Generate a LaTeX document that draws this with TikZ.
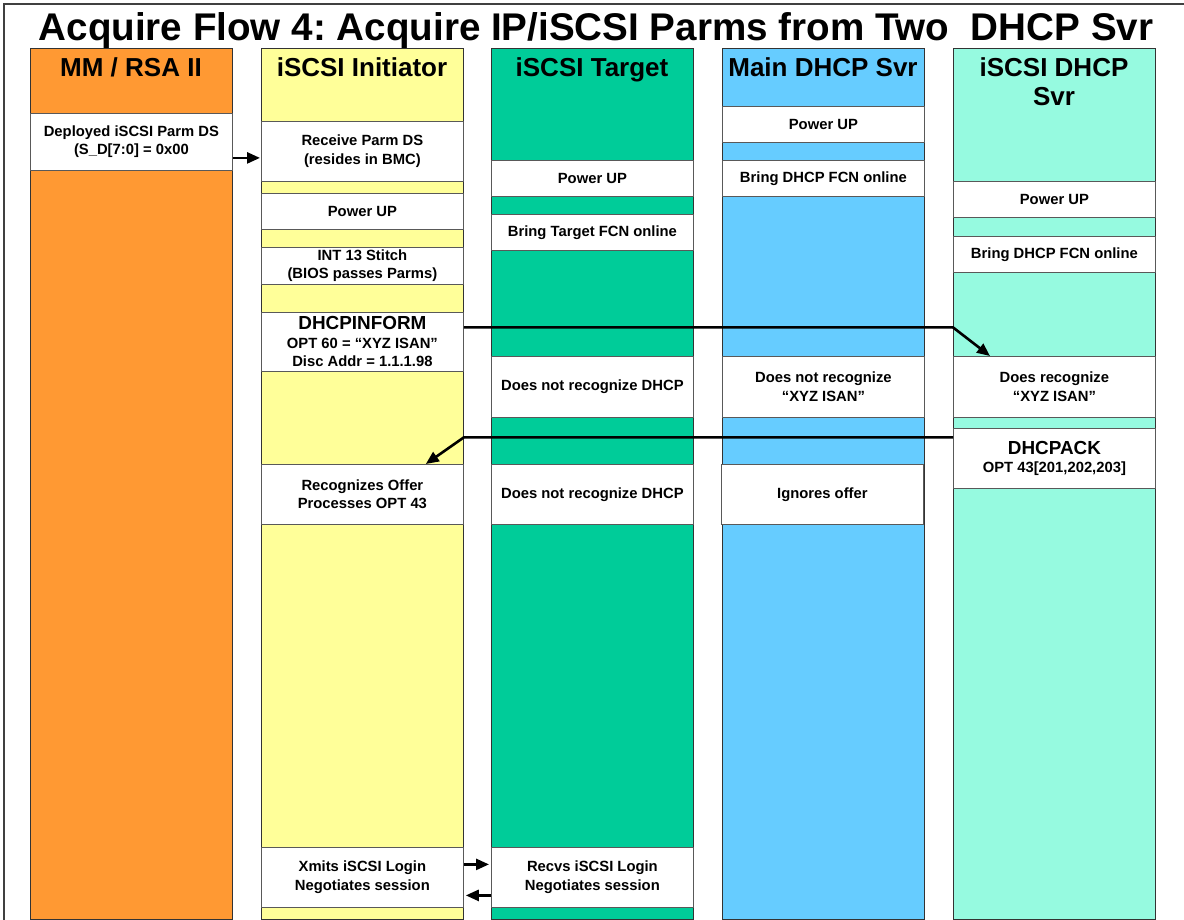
\documentclass[tikz,border=0pt]{standalone}
\usepackage{fontspec}
\setmainfont{Liberation Sans}
\usetikzlibrary{arrows.meta,calc}
\frenchspacing

\definecolor{mmorange}{HTML}{FF9933}
\definecolor{inityellow}{HTML}{FFFF99}
\definecolor{tgtgreen}{HTML}{00CC99}
\definecolor{dhcpblue}{HTML}{66CCFF}
\definecolor{isdhcpmint}{HTML}{96FAE0}

% larger first line for message boxes
\newcommand\msgtitle{\fontsize{18.9}{22}\selectfont}

\tikzset{
  lane/.style={draw=black!80, line width=0.8pt, anchor=north west,
    minimum width=202pt, minimum height=871pt, inner sep=0pt},
  lanehead/.style={font=\fontsize{26}{29}\selectfont\bfseries, align=center,
    anchor=north, inner sep=0pt},
  stepbox/.style={draw=black!65, line width=0.8pt, fill=white, anchor=north west,
    minimum width=202pt, inner sep=0pt, align=center,
    font=\fontsize{14.8}{18.5}\selectfont\bfseries},
  flow/.style={line width=2.6pt, -{Triangle[length=13pt,width=11pt]}},
}

\begin{document}
\begin{tikzpicture}[x=1pt,y=-1pt]
\useasboundingbox (0,0) rectangle (1184,920);

% outer frame
\draw[line width=1.2pt, draw=black!75] (4,920) -- (4,4) -- (1184,4);

% title
\node[font=\fontsize{38.6}{40}\selectfont\bfseries, anchor=base, inner sep=0pt] (title)
  at (596,41) {Acquire Flow 4: Acquire IP/iSCSI Parms from Two\ \ DHCP Svr};

% swim lanes
\node[lane, fill=mmorange]   (mm)   at (30,48)  {};
\node[lane, fill=inityellow] (init) at (261,48) {};
\node[lane, fill=tgtgreen]   (tgt)  at (491,48) {};
\node[lane, fill=dhcpblue]   (main) at (722,48) {};
\node[lane, fill=isdhcpmint] (isd)  at (953,48) {};

% lane headings
\node[lanehead] (hmm)   at (131,57)  {MM / RSA II};
\node[lanehead] (hinit) at (362,57)  {iSCSI Initiator};
\node[lanehead] (htgt)  at (592,57)  {iSCSI Target};
\node[lanehead] (hmain) at (823,57)  {Main DHCP Svr};
\node[lanehead] (hisd)  at (1054,57) {iSCSI DHCP\\Svr};

% MM / RSA II
\node[stepbox, minimum height=57pt] (deploy) at (30,113)
  {Deployed iSCSI Parm DS\\(S\_D[7:0] = 0x00};

% iSCSI Initiator
\node[stepbox, minimum height=60pt] (recv)   at (261,121) {Receive Parm DS\\(resides in BMC)};
\node[stepbox, minimum height=36pt] (ipwr)   at (261,193) {Power UP};
\node[stepbox, minimum height=37pt] (int13)  at (261,247) {INT 13 Stitch\\(BIOS passes Parms)};
\node[stepbox, minimum height=59pt] (inform) at (261,312)
  {{\msgtitle DHCPINFORM}\\OPT 60 = “XYZ ISAN”\\Disc Addr = 1.1.1.98};
\node[stepbox, minimum height=60pt] (offer)  at (261,464) {Recognizes Offer\\Processes OPT 43};
\node[stepbox, minimum height=60pt] (xmits)  at (261,847) {Xmits iSCSI Login\\Negotiates session};

% iSCSI Target
\node[stepbox, minimum height=36pt] (tpwr)   at (491,160) {Power UP};
\node[stepbox, minimum height=36pt] (tonl)   at (491,214) {Bring Target FCN online};
\node[stepbox, minimum height=61pt] (tno1)   at (491,356) {Does not recognize DHCP};
\node[stepbox, minimum height=60pt] (tno2)   at (491,464) {Does not recognize DHCP};
\node[stepbox, minimum height=60pt] (recvs)  at (491,847) {Recvs iSCSI Login\\Negotiates session};

% Main DHCP server
\node[stepbox, minimum height=36pt] (mpwr)   at (722,106) {Power UP};
\node[stepbox, minimum height=36pt] (monl)   at (722,160) {Bring DHCP FCN online};
\node[stepbox, minimum height=61pt] (mno)    at (722,356) {Does not recognize\\“XYZ ISAN”};
\node[stepbox, minimum height=60pt] (mign)   at (721,464) {Ignores offer};

% iSCSI DHCP server
\node[stepbox, minimum height=36pt] (spwr)   at (953,181) {Power UP};
\node[stepbox, minimum height=36pt] (sonl)   at (953,236) {Bring DHCP FCN online};
\node[stepbox, minimum height=61pt] (recog)  at (953,356) {Does recognize\\“XYZ ISAN”};
\node[stepbox, minimum height=60pt] (ack)    at (953,428)
  {{\msgtitle DHCPACK}\\OPT 43[201,202,203]};

% message flows
\draw[flow, shorten >=1pt] ([yshift=-16pt]deploy.east) -- ([yshift=-16pt]deploy.east -| recv.west);

\coordinate (informbend) at ([yshift=14.5pt]inform.east -| recog.west);
\draw[flow] ([yshift=14.5pt]inform.east) -- (informbend) -- ([xshift=37pt]recog.north west);

\coordinate (ackbend) at ([yshift=21pt]ack.west -| offer.east);
\draw[flow] ([yshift=21pt]ack.west) -- (ackbend) -- ([xshift=-38pt]offer.north east);

\draw[flow, shorten >=2pt] ([yshift=13pt]xmits.east) -- ([yshift=13pt]xmits.east -| recvs.west);
\draw[flow, shorten >=2pt] ([yshift=-18pt]recvs.west) -- ([yshift=-18pt]recvs.west -| xmits.east);
\end{tikzpicture}
\end{document}
